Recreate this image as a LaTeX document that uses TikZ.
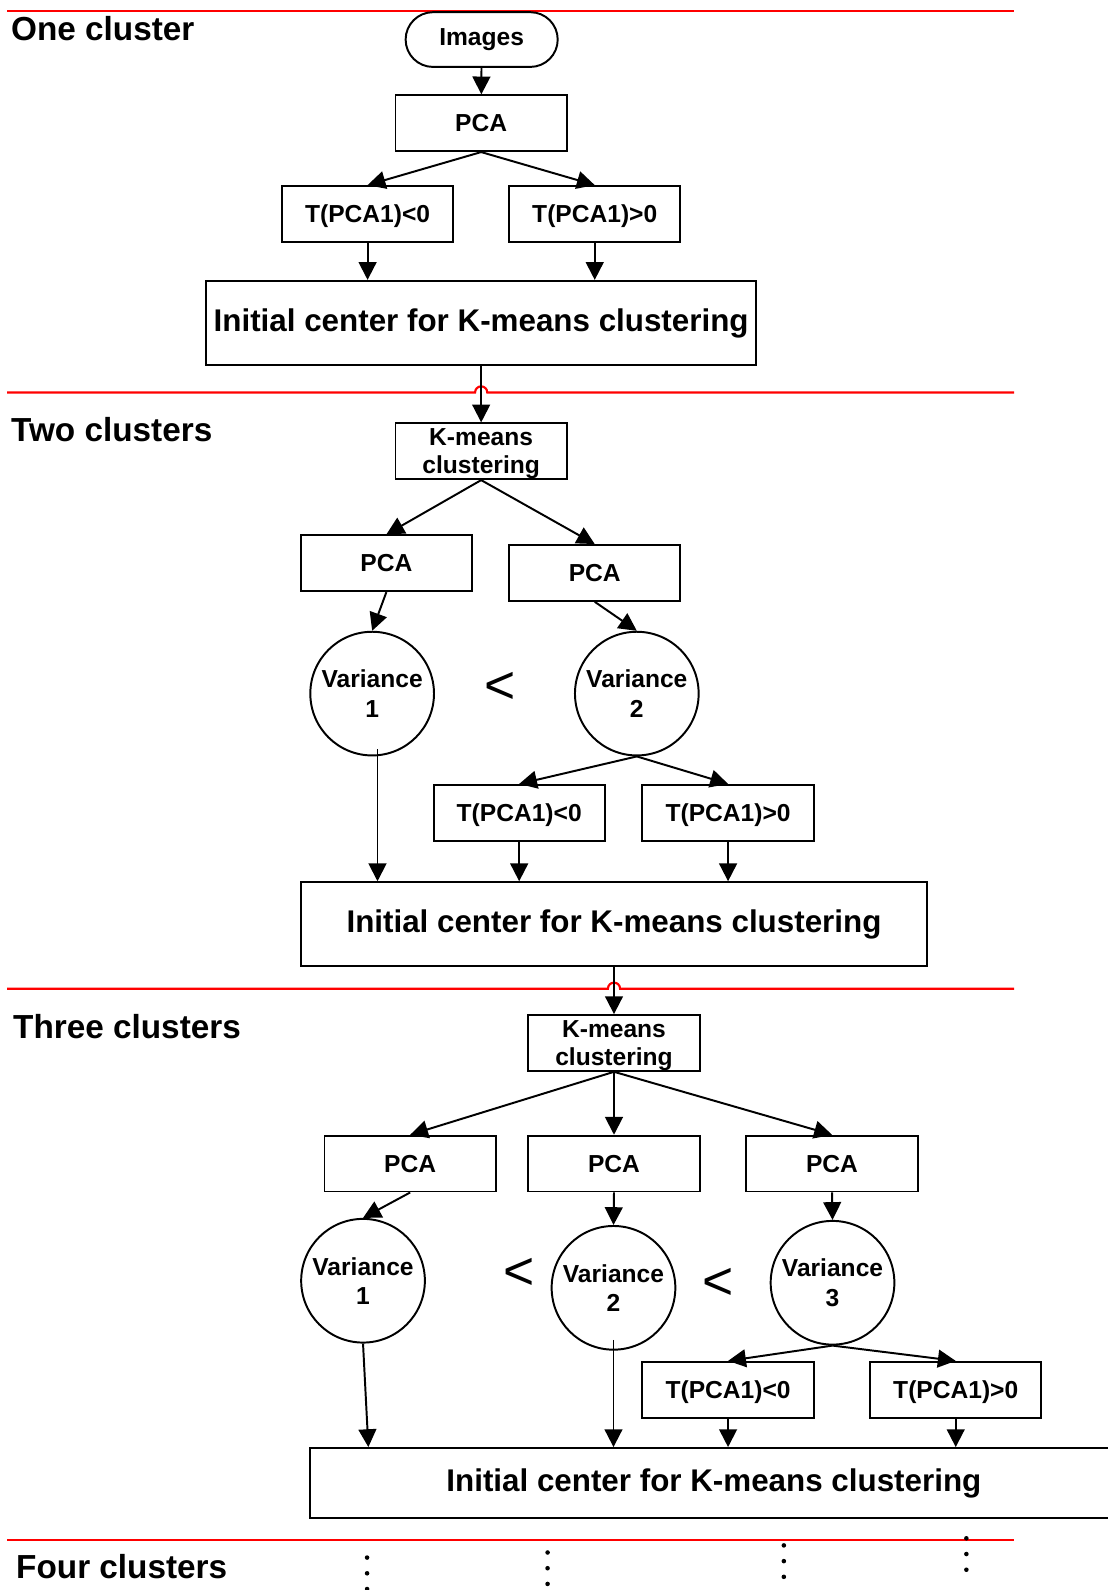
\documentclass[tikz,border=0pt]{standalone}
\usepackage{fontspec}
\setmainfont{Liberation Sans}
\usetikzlibrary{arrows.meta,positioning,calc}

\begin{document}
\begin{tikzpicture}[x=0.02cm, y=-0.02cm, line width=1.1pt,
  every node/.style={font=\bfseries\fontsize{13.8}{16}\selectfont},
  box/.style={draw, rectangle, minimum width=3.38cm, minimum height=1.1cm, inner sep=0pt, align=center, text depth=0pt},
  wide/.style={draw, rectangle, minimum height=1.66cm, font=\bfseries\fontsize{17.6}{20}\selectfont},
  term/.style={draw, rounded corners=0.54cm, minimum width=3cm, minimum height=1.08cm},
  var/.style={draw, circle, minimum size=2.44cm, inner sep=0pt, align=center, font=\bfseries\fontsize{13.8}{16.4}\selectfont},
  flow/.style={-{Triangle[length=10pt,width=10pt]}},
  seclabel/.style={anchor=west, inner sep=0pt, font=\bfseries\fontsize{18.7}{22}\selectfont},
  lt/.style={inner sep=0pt, font=\fontsize{30}{30}\selectfont},
  redline/.style={red, line width=1.2pt}]
  \useasboundingbox (0,0) rectangle (1092,1568);

  % separators
  \draw[redline] (7,11) -- (1000,11);
  \draw[redline] (7,387) -- (468.5,387) arc[start angle=180, end angle=0, radius=0.12cm] -- (1000,387);
  \draw[redline] (7,975) -- (599.5,975) arc[start angle=180, end angle=0, radius=0.12cm] -- (1000,975);
  \draw[redline] (7,1519) -- (1000,1519);

  \node[seclabel] (one) at (10,28) {One cluster};
  \node[seclabel] (two) at (10,424) {Two clusters};
  \node[seclabel] (three) at (12,1012) {Three clusters};
  \node[seclabel] (four) at (15,1545) {Four clusters};

  % one cluster
  \node[term] (img) at (475,39) {Images};
  \node[box] (pca) at (474.5,121.5) {PCA};
  \node[box] (tneg) at (362.5,211) {T(PCA1)<0};
  \node[box] (tpos) at (586.5,211) {T(PCA1)>0};
  \node[wide, minimum width=10.86cm] (init) at (474.5,318.5) {Initial center for K-means clustering};

  \draw[flow] (img) -- (pca);
  \draw[flow] (pca.south) -- (tneg.north);
  \draw[flow] (pca.south) -- (tpos.north);
  \draw[flow] (tneg.south) -- (tneg.south |- init.north);
  \draw[flow] (tpos.south) -- (tpos.south |- init.north);

  % two clusters
  \node[box] (km) at (474.5,445) {K-means\\clustering};
  \node[box] (pcaa) at (381,555.5) {PCA};
  \node[box] (pcab) at (586.5,565) {PCA};
  \node[var] (vara) at (367,684) {Variance\\1};
  \node[lt] (lta) at (493,678) {<};
  \node[var] (varb) at (628,684) {Variance\\2};
  \node[box] (tnegb) at (512,801.5) {T(PCA1)<0};
  \node[box] (tposb) at (718,801.5) {T(PCA1)>0};
  \node[wide, minimum width=12.34cm] (initb) at (605.5,911.5) {Initial center for K-means clustering};

  \draw[flow] (init.south) -- (km.north);
  \draw[flow] (km.south) -- (pcaa.north);
  \draw[flow] (km.south) -- (pcab.north);
  \draw[flow] (pcaa.south) -- (vara.north);
  \draw[flow] (pcab.south) -- (varb.north);
  \draw[flow] ([xshift=3pt,yshift=4pt]vara.south) -- ([xshift=3pt]vara.south |- initb.north);
  \draw[flow] (varb.south) -- (tnegb.north);
  \draw[flow] (varb.south) -- (tposb.north);
  \draw[flow] (tnegb.south) -- (tnegb.south |- initb.north);
  \draw[flow] (tposb.south) -- (tposb.south |- initb.north);

  % three clusters
  \node[box] (kmc) at (605.5,1028.5) {K-means\\clustering};
  \node[box] (pcac) at (404.5,1147.5) {PCA};
  \node[box] (pcad) at (605.5,1147.5) {PCA};
  \node[box] (pcae) at (820.5,1147.5) {PCA};
  \node[var] (varc) at (358,1263) {Variance\\1};
  \node[lt] (ltb) at (512,1256) {<};
  \node[var] (vard) at (605,1270) {Variance\\2};
  \node[lt] (ltc) at (708,1266) {<};
  \node[var] (vare) at (821,1265) {Variance\\3};
  \node[box] (tnegc) at (718,1370.5) {T(PCA1)<0};
  \node[box] (tposc) at (942.5,1370.5) {T(PCA1)>0};
  \node[wide, minimum width=15.92cm, minimum height=1.38cm] (initc) at (704,1462.5) {Initial center for K-means clustering};

  \draw[flow] (initb.south) -- (kmc.north);
  \draw[flow] (kmc.south) -- (pcac.north);
  \draw[flow] (kmc.south) -- (pcad.north);
  \draw[flow] (kmc.south) -- (pcae.north);
  \draw[flow] (pcac.south) -- (varc.north);
  \draw[flow] (pcad.south) -- (vard.north);
  \draw[flow] (pcae.south) -- (vare.north);
  \draw[flow] (varc.south) -- ([xshift=3pt]varc.south |- initc.north);
  \draw[flow] ([yshift=6pt]vard.south) -- (vard.south |- initc.north);
  \draw[flow] (vare.south) -- (tnegc.north);
  \draw[flow] (vare.south) -- (tposc.north);
  \draw[flow] (tnegc.south) -- (tnegc.south |- initc.north);
  \draw[flow] (tposc.south) -- (tposc.south |- initc.north);

  % four clusters
  \foreach \x/\y in {362/1536, 540/1531, 773/1524, 953/1517}
    \foreach \k in {0,1,2}
      \fill (\x,\y+15.5*\k) circle[radius=0.045cm];
\end{tikzpicture}
\end{document}
